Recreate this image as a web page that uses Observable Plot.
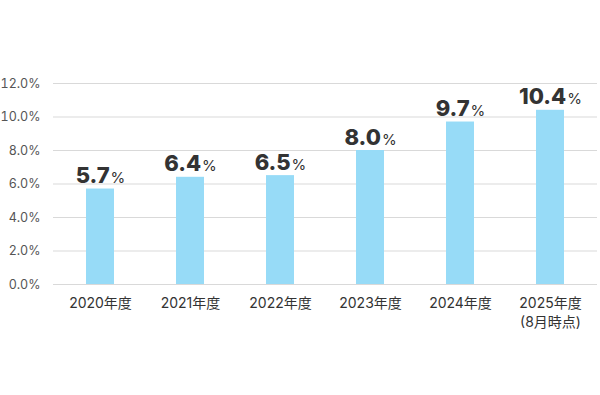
<!DOCTYPE html>
<html>
<head>
<meta charset="utf-8">
<script src="https://cdn.jsdelivr.net/npm/d3@7"></script>
<script src="https://cdn.jsdelivr.net/npm/@observablehq/plot@0.6"></script>
<style>
  html, body { margin: 0; padding: 0; background: #fff; }
  #chart { width: 600px; height: 395px; }
  svg { font-family: Inter, "Noto Sans CJK JP", sans-serif; }
</style>
</head>
<body>
<div id="chart"></div>
<script>
const categories = ["2020年度", "2021年度", "2022年度", "2023年度", "2024年度", "2025年度\n(8月時点)"];
const values = [5.7, 6.4, 6.5, 8.0, 9.7, 10.4];
const yTicks = [0, 2, 4, 6, 8, 10, 12];

const data = categories.map((c, i) => ({category: c, value: values[i]}));

const chart = Plot.plot({
  width: 600,
  height: 395,
  marginTop: 83,
  marginBottom: 111,
  marginLeft: 53,
  marginRight: 3,
  style: {fontFamily: "Inter, 'Noto Sans CJK JP', sans-serif", background: "#fff"},
  x: {domain: categories, paddingInner: 0.69, paddingOuter: 0.345, label: null},
  y: {domain: [0, 12], ticks: yTicks, label: null},
  marks: [
    Plot.gridY(yTicks, {stroke: "#d9d9d9", strokeOpacity: 1, strokeWidth: 1}),
    Plot.barY(data, {x: "category", y: "value", fill: "#97dbf7"}),
    Plot.axisY({ticks: yTicks, tickSize: 0, tickPadding: 13, tickFormat: d => d.toFixed(1) + "%", fontSize: 12.5, fill: "#555", anchor: "left"}),
    Plot.axisX({tickSize: 0, tickPadding: 11, fontSize: 14, fill: "#333", lineHeight: 1.3}),
    Plot.text(data, {x: "category", y: "value", text: d => d.value.toFixed(1) + "%", dy: -6, lineAnchor: "bottom", fontSize: 22, fontWeight: 800, fill: "#333", className: "vlabel"})
  ]
});

document.getElementById("chart").appendChild(chart);

d3.select(chart).selectAll(".vlabel text").each(function() {
  const t = this.textContent;
  const num = t.slice(0, -1);
  const sel = d3.select(this);
  sel.text(null);
  sel.append("tspan").text(num);
  sel.append("tspan").attr("font-size", 15).attr("font-weight", "normal").attr("dx", 1).text("%");
});
</script>
</body>
</html>
